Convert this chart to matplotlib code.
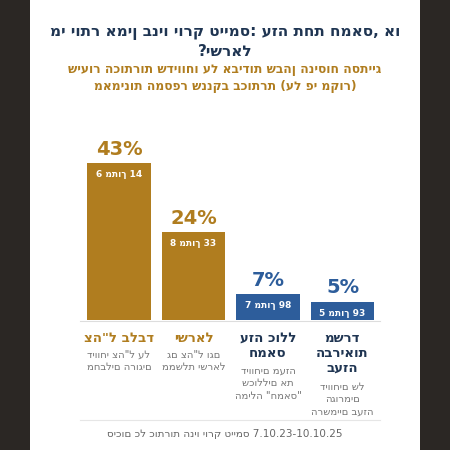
import matplotlib
matplotlib.use("Agg")
import matplotlib.pyplot as plt
from matplotlib.patches import Rectangle

plt.rcParams['font.family'] = ['DejaVu Sans']

categories = ["צה\"ל בלבד", "ישראל", "עזה כולל\nחמאס", "משרד\nהבריאות\nבעזה"]
descriptions = ["דיווחי צה\"ל על\nמחבלים הרוגים", "גם צה\"ל וגם\nממשלת ישראל",
                "דיווחים מעזה\nשכוללים את\nהמילה \"חמאס\"", "דיווחים של\nהגורמים\nהרשמיים בעזה"]
values = [43, 24, 7, 5]
counts = ["6 מתוך 14", "8 מתוך 33", "7 מתוך 98", "5 מתוך 93"]
colors = ["#b07d1f", "#b07d1f", "#2d5d9b", "#2d5d9b"]
name_colors = ["#b07d1f", "#b07d1f", "#1f3552", "#1f3552"]
title = "מי יותר אמין בניו יורק טיימס: עזה תחת חמאס, או\n?ישראל"
subtitle = "שיעור הכותרות שדיווחו על אבידות שבהן הניסוח הסתייג\nמאמינות המספר שננקב בכותרת (על פי מקור)"
footer = "סיכום כל כותרות הניו יורק טיימס 7.10.23-10.10.25"

fig = plt.figure(figsize=(4.5, 4.5), dpi=100, facecolor="#2b2724")
fig.patches.append(Rectangle((30/450, 0), 390/450, 1, transform=fig.transFigure,
                             facecolor="white", edgecolor="none", zorder=-5))

def fy(py):
    return 1 - py/450

fig.text(0.5, fy(42), title, ha="center", va="center", fontsize=11, fontweight="bold",
         color="#1f3552", linespacing=1.35)
fig.text(0.5, fy(78), subtitle, ha="center", va="center", fontsize=8.8, fontweight="bold",
         color="#b07d1f", linespacing=1.45)

ax = fig.add_axes([81.75/450, 130/450, 298/450, 157/450])
ax.set_xlim(-0.5, 3.5)
ax.set_ylim(0, 43)
ax.axis("off")
x = list(range(len(values)))
ax.bar(x, values, width=0.85, color=colors)
for i, v in enumerate(values):
    ax.text(i, v + 1.2, f"{v}%", ha="center", va="bottom", fontsize=14, fontweight="bold",
            color=colors[i])
    ax.annotate(counts[i], (i, v), xytext=(0, -5), textcoords="offset points",
                ha="center", va="top", fontsize=6.5, fontweight="bold", color="white")

fig.add_artist(plt.Line2D([80/450, 380/450], [fy(320.5)]*2, color="#dddddd", lw=0.8))
fig.add_artist(plt.Line2D([80/450, 380/450], [fy(420)]*2, color="#e6e6e6", lw=0.8))

for i in range(len(values)):
    xf = (81.75 + 74.5*(i+0.5))/450
    ncat = categories[i].count("\n") + 1
    fig.text(xf, fy(332), categories[i], ha="center", va="top", fontsize=9.5,
             fontweight="bold", color=name_colors[i], linespacing=1.2)
    fig.text(xf, fy(332 + ncat*16 + 2), descriptions[i], ha="center", va="top",
             fontsize=7.2, color="#777777", linespacing=1.3)

fig.text(0.5, fy(434), footer, ha="center", va="center", fontsize=7.5, color="#666666")

fig.savefig("out.png", dpi=100, facecolor=fig.get_facecolor())
